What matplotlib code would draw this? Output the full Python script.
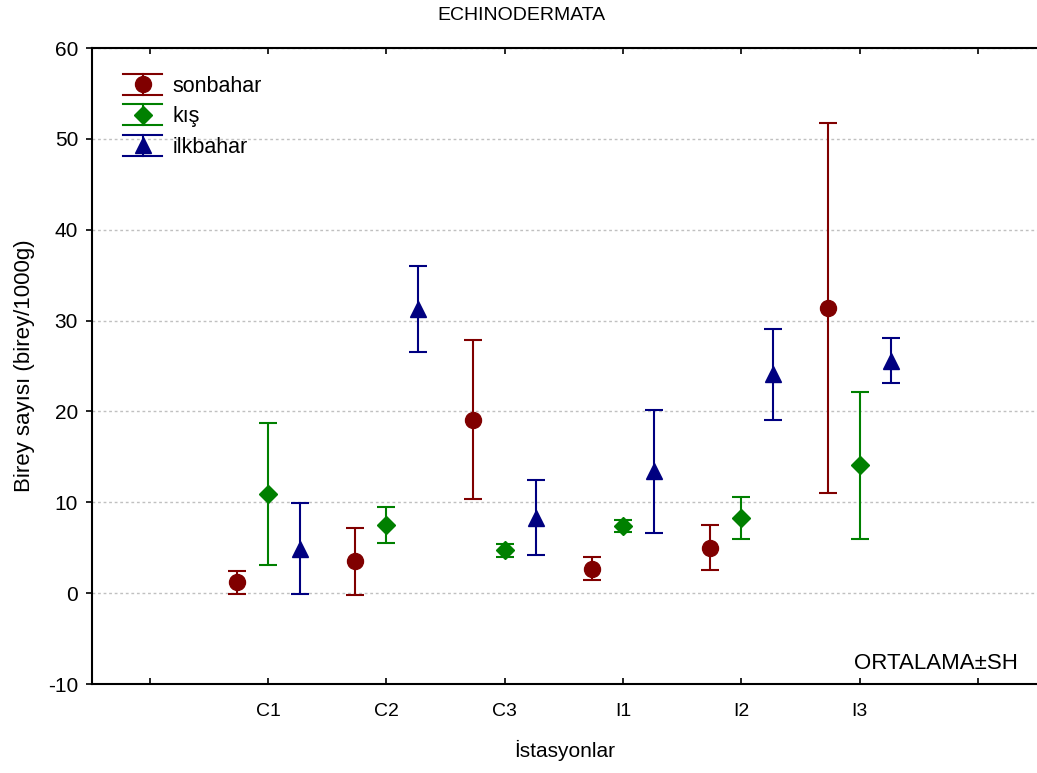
import numpy as np
import matplotlib
matplotlib.use("Agg")
import matplotlib.pyplot as plt
from matplotlib.legend_handler import HandlerBase
from matplotlib.lines import Line2D

plt.rcParams['font.family'] = ['Liberation Sans', 'DejaVu Sans']
plt.rcParams['axes.unicode_minus'] = False

# veriler (ortalama ± standart hata)
stations = ['C1', 'C2', 'C3', 'I1', 'I2', 'I3']
seasons = ['sonbahar', 'kış', 'ilkbahar']
sonbahar_mean = [1.2, 3.5, 19.1, 2.7, 5.0, 31.4]
sonbahar_se = [1.25, 3.7, 8.75, 1.3, 2.5, 20.4]
kis_mean = [10.9, 7.5, 4.7, 7.35, 8.3, 14.05]
kis_se = [7.8, 1.95, 0.68, 0.65, 2.3, 8.05]
ilkbahar_mean = [4.9, 31.3, 8.3, 13.4, 24.1, 25.6]
ilkbahar_se = [5.0, 4.75, 4.1, 6.8, 5.0, 2.5]

colors = ['#800000', '#008000', '#000080']
markers = ['o', 'D', '^']
msizes = [11.5, 8.8, 11.5]
offsets = [-0.265, 0.0, 0.265]


class ErrHandler(HandlerBase):
    def __init__(self, color, marker, ms):
        super().__init__()
        self.color = color
        self.marker = marker
        self.ms = ms

    def create_artists(self, legend, orig_handle, xdescent, ydescent,
                       width, height, fontsize, trans):
        x0, x1 = -xdescent, -xdescent + width
        y0, y1 = -ydescent, -ydescent + height
        xm, ym = (x0 + x1) / 2, (y0 + y1) / 2
        arts = [
            Line2D([x0, x1], [y1, y1], color=self.color, lw=1.5),
            Line2D([x0, x1], [y0, y0], color=self.color, lw=1.5),
            Line2D([xm, xm], [y0, y1], color=self.color, lw=1.5),
            Line2D([xm], [ym], marker=self.marker, ms=self.ms,
                   color=self.color, ls='none'),
        ]
        for a in arts:
            a.set_transform(trans)
        return arts


fig = plt.figure(figsize=(10.37, 7.73), dpi=100)
ax = fig.add_axes([92 / 1037, 89 / 773, 945 / 1037, 636 / 773])

x = np.arange(1, len(stations) + 1)
means = [sonbahar_mean, kis_mean, ilkbahar_mean]
ses = [sonbahar_se, kis_se, ilkbahar_se]
handles = []
hmap = {}
for i in range(3):
    c = ax.errorbar(x + offsets[i], means[i], yerr=ses[i], fmt=markers[i],
                    color=colors[i], ms=msizes[i], elinewidth=1.5,
                    capsize=6.8, capthick=1.5, label=seasons[i], zorder=3)
    handles.append(c)
    hmap[c] = ErrHandler(colors[i], markers[i], msizes[i])

ax.set_xlim(-0.49, 7.5)
ax.set_ylim(-10, 60)
ax.set_xticks(np.arange(0, 8))
ax.set_xticklabels([''] + stations + [''])
ax.set_yticks(np.arange(-10, 61, 10))
ax.tick_params(axis='x', direction='in', length=4, width=1.2, top=True,
               pad=14, labelsize=14)
ax.tick_params(axis='y', direction='out', length=4, width=1.2, right=False,
               pad=6, labelsize=15)
ax.spines['right'].set_visible(False)
for s in ['left', 'bottom', 'top']:
    ax.spines[s].set_linewidth(1.5)
ax.yaxis.grid(True, linestyle=(0, (2, 2)), color='#c0c0c0', linewidth=1)
ax.set_axisbelow(True)

fig.text(521 / 1037, 1 - 15 / 773, 'ECHINODERMATA', ha='center',
         va='center', fontsize=14)
ax.set_xlabel('İstasyonlar', fontsize=15, labelpad=14)
ax.set_ylabel('Birey sayısı (birey/1000g)', fontsize=16, labelpad=9)
ax.text(0.98, 0.033, 'ORTALAMA±SH', transform=ax.transAxes, ha='right',
        va='center', fontsize=16)

ax.legend(handles=handles, handler_map=hmap, loc='upper left',
          bbox_to_anchor=(0.033, 0.959), frameon=False, fontsize=15.5,
          borderpad=0, borderaxespad=0, handlelength=1.8,
          handleheight=1.1, labelspacing=0.36, handletextpad=0.5)

plt.savefig('out.png', dpi=100)
